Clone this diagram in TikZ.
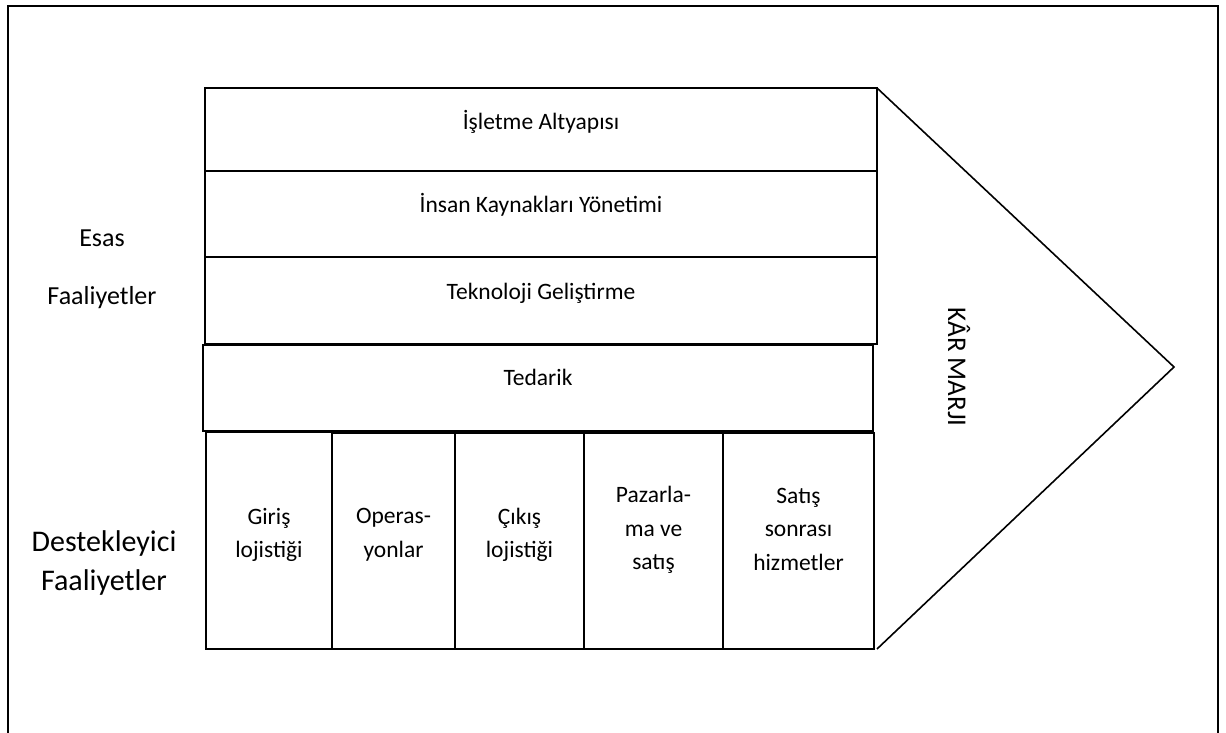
\documentclass[tikz,border=0pt]{standalone}
\usepackage{fontspec}
\setmainfont{Carlito}
\begin{document}
\begin{tikzpicture}[x=1pt,y=-1pt,
  box/.style={draw, line width=1.6pt, inner sep=0pt, outer sep=0pt},
  lab/.style={font=\fontsize{23.5}{33.5}\selectfont, align=center, inner sep=0pt},
  toplab/.style={lab, anchor=base},
  sidelab/.style={font=\fontsize{26}{32}\selectfont, inner sep=0pt, anchor=base},
  biglab/.style={font=\fontsize{30}{36}\selectfont, inner sep=0pt, anchor=base}]
\useasboundingbox (0,0) rectangle (1226,733);

% page frame, open at the bottom
\begin{scope}
  \clip (0,0) rectangle (1226,733);
  \draw[line width=1.4pt] (8,760) -- (8,6) -- (1218,6) -- (1218,760);
\end{scope}

% support activity rows
\node[box, minimum width=672pt, minimum height=83pt] (infra) at (541,129.5) {};
\node[box, minimum width=672pt, minimum height=86pt] (hr)    at (541,214) {};
\node[box, minimum width=672pt, minimum height=87pt] (tech)  at (541,300.5) {};
\node[box, minimum width=670pt, minimum height=86pt] (proc)  at (538,388) {};

% primary activity columns
\node[box, minimum width=126pt, minimum height=217pt] (gir) at (269,540.5) {};
\node[box, minimum width=123pt, minimum height=216pt] (ope) at (393.5,541) {};
\node[box, minimum width=129pt, minimum height=216pt] (cik) at (519.5,541) {};
\node[box, minimum width=139pt, minimum height=216pt] (paz) at (653.5,541) {};
\node[box, minimum width=151pt, minimum height=216pt] (sat) at (798.5,541) {};

% margin arrow
\coordinate (tip) at (1174,367);
\draw[line width=1.6pt, line join=miter] (infra.north east) -- (tip) -- (infra.north east |- sat.south);

% row labels
\node[toplab] (tinfra) at (infra.center |- 0,130) {İşletme Altyapısı};
\node[toplab] (thr)    at (hr.center |- 0,212) {İnsan Kaynakları Yönetimi};
\node[toplab] (ttech)  at (tech.center |- 0,299) {Teknoloji Geliştirme};
\node[toplab] (tproc)  at (proc.center |- 0,385) {Tedarik};

% column labels
\node[lab] (tgir) at (gir.center |- 0,535) {Giriş\\lojistiği};
\node[lab] (tope) at (ope.center |- 0,535) {Operas-\\yonlar};
\node[lab] (tcik) at (cik.center |- 0,535) {Çıkış\\lojistiği};
\node[lab] (tpaz) at (paz.center |- 0,530) {Pazarla-\\ma ve\\satış};
\node[lab] (tsat) at (sat.center |- 0,529) {Satış\\sonrası\\hizmetler};

% side labels
\node[sidelab] (esas1) at (102,246) {Esas};
\node[sidelab] (esas2) at (102,304) {Faaliyetler};
\node[biglab] (dest1) at (104,551) {Destekleyici};
\node[biglab] (dest2) at (104,590) {Faaliyetler};

% margin label
\node[font=\fontsize{27}{32}\selectfont, rotate=-90, inner sep=0pt] (kar) at (959,367) {KÂR MARJI};
\end{tikzpicture}
\end{document}
